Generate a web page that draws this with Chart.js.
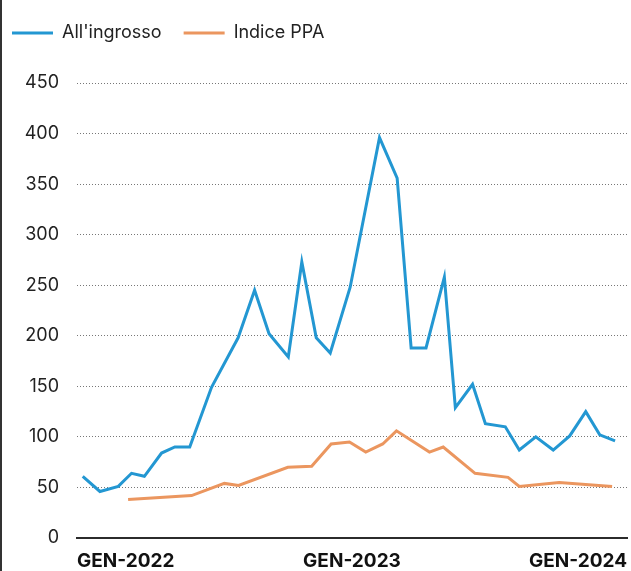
<!DOCTYPE html>
<html lang="it">
<head>
<meta charset="utf-8">
<title>Prezzi all'ingrosso e indice PPA</title>
<script src="https://cdn.jsdelivr.net/npm/chart.js@4.4.1/dist/chart.umd.min.js"></script>
<style>
  html, body { margin: 0; padding: 0; background: #fff; }
  #grafico { display: block; }
</style>
</head>
<body>
<canvas id="grafico" width="631" height="571"></canvas>
<script>
// posizione in mesi a partire da gennaio 2022
const mesiIngrosso = [0.25, 1.0, 1.8, 2.38, 2.94, 3.69, 4.27, 4.92, 5.87, 7.03, 7.75, 8.38, 9.22, 9.81, 10.44, 11.05,
  11.92, 13.2, 13.97, 14.58, 15.23, 16.03, 16.51, 17.26, 17.82, 18.69, 19.3, 20.02, 20.78, 21.5, 22.2, 22.81, 23.48];
const ingrosso = [61, 46, 51, 64, 61, 84, 90, 90, 149, 198, 245, 202, 179, 273, 198, 183,
  248, 396, 356, 188, 188, 258, 129, 152, 113, 110, 87, 100, 87, 101, 125, 102, 96];

const mesiPpa = [2.23, 5.0, 6.43, 7.05, 9.2, 10.24, 11.09, 11.89, 12.6, 13.34, 13.94, 15.38, 15.98, 17.37, 18.81, 19.3, 21.04, 23.35];
const ppa = [38, 42, 54, 52, 70, 71, 93, 95, 85, 93, 106, 85, 90, 64, 60, 51, 55, 51];

const etichetteAnni = ['GEN-2022', 'GEN-2023', 'GEN-2024'];
const nomiSerie = ["All'ingrosso", 'Indice PPA'];
const colori = ['#2397d2', '#eb965f'];

const FONT = 'Inter, "Noto Sans", sans-serif';

function punti(xs, ys) {
    return xs.map((x, i) => ({ x: x, y: ys[i] }));
}

// linea verticale sul bordo sinistro
const bordoSinistro = {
    id: 'bordoSinistro',
    afterDraw(chart) {
        const ctx = chart.ctx;
        ctx.save();
        ctx.fillStyle = '#333';
        ctx.fillRect(0, 0, 2, chart.height);
        ctx.restore();
    }
};

// altezza fissa per la legenda, e voci un po' più a sinistra
const legendaFissa = {
    id: 'legendaFissa',
    afterInit(chart) {
        const fit = chart.legend.fit;
        chart.legend.fit = function () {
            fit.call(this);
            this.height = 81;
        };
    },
    afterLayout(chart) {
        chart.legend.left -= 12;
    }
};

new Chart("grafico", {
    type: "line",
    data: {
        datasets: [{
            label: nomiSerie[0],
            data: punti(mesiIngrosso, ingrosso),
            borderColor: colori[0],
            backgroundColor: colori[0],
            pointBorderWidth: 3
        }, {
            label: nomiSerie[1],
            data: punti(mesiPpa, ppa),
            borderColor: colori[1],
            backgroundColor: colori[1],
            pointBorderWidth: 3
        }]
    },
    options: {
        responsive: false,
        animation: false,
        layout: {
            padding: { left: 2, right: 3, top: 2, bottom: 0 }
        },
        elements: {
            point: { radius: 0 },
            line: { borderWidth: 3, tension: 0, borderJoinStyle: 'miter' }
        },
        scales: {
            x: {
                type: 'linear',
                min: 0,
                max: 24,
                grid: { display: false },
                border: { display: true, color: '#2b2b2b', width: 2 },
                ticks: {
                    stepSize: 12,
                    align: 'inner',
                    padding: 4,
                    maxRotation: 0,
                    color: '#111',
                    font: { family: FONT, size: 19, weight: 'bold' },
                    callback: function (value) {
                        return etichetteAnni[value / 12];
                    }
                },
                afterFit: function (scale) {
                    scale.height = 33;
                }
            },
            y: {
                min: 0,
                max: 450,
                grid: { color: '#777', lineWidth: 1, drawTicks: false },
                border: { display: false, dash: [1, 2] },
                ticks: {
                    stepSize: 50,
                    padding: 18,
                    color: '#222',
                    font: { family: FONT, size: 18 }
                },
                afterFit: function (scale) {
                    scale.width = 75;
                }
            }
        },
        plugins: {
            legend: {
                align: 'start',
                labels: {
                    usePointStyle: true,
                    pointStyle: 'line',
                    pointStyleWidth: 41,
                    boxHeight: 18,
                    padding: 22,
                    color: '#222',
                    font: { family: FONT, size: 18 }
                }
            },
            tooltip: { enabled: false }
        }
    },
    plugins: [bordoSinistro, legendaFissa]
});
</script>
</body>
</html>
